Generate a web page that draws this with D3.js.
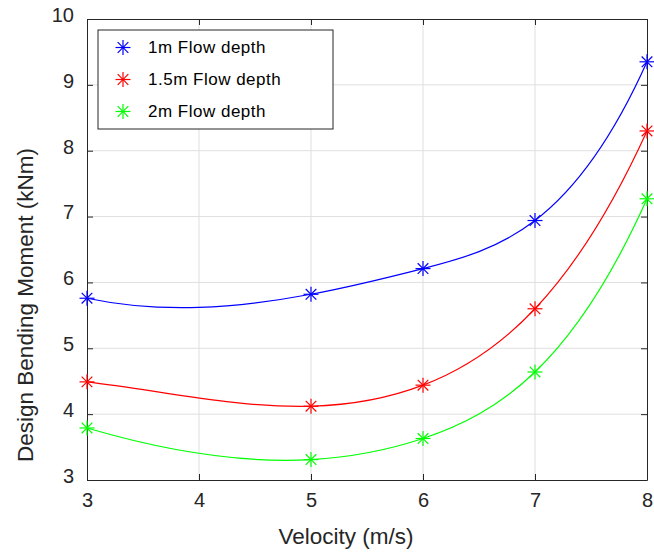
<!DOCTYPE html>
<html><head><meta charset="utf-8">
<script src="https://cdn.jsdelivr.net/npm/d3@7"></script>
<style>body{margin:0;background:#fff;}svg{display:block;font-family:"Liberation Sans",Arial,sans-serif;}</style>
</head><body><svg id="c" width="654" height="552"></svg>
<script>
const velocity = [3, 5, 6, 7, 8];
const depth1 = [5.76, 5.82, 6.21, 6.94, 9.35];
const depth15 = [4.49, 4.12, 4.44, 5.60, 8.30];
const depth2 = [3.79, 3.31, 3.63, 4.64, 7.27];
const seriesNames = ["1m Flow depth", "1.5m Flow depth", "2m Flow depth"];
const seriesColors = ["#0000ff", "#ff0000", "#00ff00"];
const xTicks = [3, 4, 5, 6, 7, 8];
const yTicks = [3, 4, 5, 6, 7, 8, 9, 10];

// not-a-knot cubic spline curve (like MATLAB spline) as a d3 curve factory
function curveNotAKnot(context) {
  let xs, ys;
  return {
    areaStart() {}, areaEnd() {},
    lineStart() { xs = []; ys = []; },
    point(x, y) { xs.push(+x); ys.push(+y); },
    lineEnd() {
      const n = xs.length;
      if (n < 4) { xs.forEach((x, i) => i ? context.lineTo(x, ys[i]) : context.moveTo(x, ys[i])); return; }
      const h = [], d = [];
      for (let i = 0; i < n - 1; i++) { h.push(xs[i + 1] - xs[i]); d.push((ys[i + 1] - ys[i]) / h[i]); }
      const A = Array.from({length: n}, () => new Array(n).fill(0)), b = new Array(n).fill(0);
      A[0][0] = h[1]; A[0][1] = h[0] + h[1];
      b[0] = ((h[0] + 2 * (h[0] + h[1])) * h[1] * d[0] + h[0] * h[0] * d[1]) / (h[0] + h[1]);
      for (let i = 1; i < n - 1; i++) {
        A[i][i - 1] = h[i]; A[i][i] = 2 * (h[i - 1] + h[i]); A[i][i + 1] = h[i - 1];
        b[i] = 3 * (h[i] * d[i - 1] + h[i - 1] * d[i]);
      }
      const xn = h[n - 2] + h[n - 3];
      A[n - 1][n - 2] = xn; A[n - 1][n - 1] = h[n - 3];
      b[n - 1] = (h[n - 2] * h[n - 2] * d[n - 3] + (2 * xn + h[n - 2]) * h[n - 3] * d[n - 2]) / xn;
      // gaussian elimination
      for (let c = 0; c < n; c++) {
        let p = c; for (let r = c + 1; r < n; r++) if (Math.abs(A[r][c]) > Math.abs(A[p][c])) p = r;
        [A[c], A[p]] = [A[p], A[c]]; [b[c], b[p]] = [b[p], b[c]];
        for (let r = c + 1; r < n; r++) { const f = A[r][c] / A[c][c]; for (let k = c; k < n; k++) A[r][k] -= f * A[c][k]; b[r] -= f * b[c]; }
      }
      const m = new Array(n);
      for (let r = n - 1; r >= 0; r--) { let s = b[r]; for (let k = r + 1; k < n; k++) s -= A[r][k] * m[k]; m[r] = s / A[r][r]; }
      context.moveTo(xs[0], ys[0]);
      for (let i = 0; i < n - 1; i++) {
        const t = h[i] / 3;
        context.bezierCurveTo(xs[i] + t, ys[i] + m[i] * t, xs[i + 1] - t, ys[i + 1] - m[i + 1] * t, xs[i + 1], ys[i + 1]);
      }
    }
  };
}

const series = [depth1, depth15, depth2];
const svg = d3.select("#c");
const L = 87, R = 647, T = 19, B = 480;
const x = d3.scaleLinear().domain([3, 8]).range([L, R]);
const y = d3.scaleLinear().domain([3, 10]).range([B, T]);
const axisCol = "#262626";
const FONT = "Liberation Sans, Arial, sans-serif";

// grid
svg.append("g").selectAll("line").data(xTicks.slice(1, -1)).join("line")
  .attr("x1", d => x(d)).attr("x2", d => x(d)).attr("y1", T).attr("y2", B)
  .attr("stroke", "#dfdfdf").attr("stroke-width", 1);
svg.append("g").selectAll("line").data(yTicks.slice(1, -1)).join("line")
  .attr("y1", d => y(d)).attr("y2", d => y(d)).attr("x1", L).attr("x2", R)
  .attr("stroke", "#dfdfdf").attr("stroke-width", 1);

// axes
const ax = (g, axis) => { g.call(axis); g.select(".domain").attr("stroke", axisCol); g.selectAll(".tick line").attr("stroke", axisCol); g.selectAll(".tick text").attr("fill", axisCol).attr("font-size", 20).attr("font-family", FONT); };
const fmt = d3.format("d");
svg.append("g").attr("transform", `translate(0,${B})`)
  .call(g => ax(g, d3.axisBottom(x).tickValues(xTicks).tickFormat(fmt).tickSize(-6).tickSizeOuter(0).tickPadding(13)));
svg.append("g").attr("transform", `translate(${L},0)`)
  .call(g => { ax(g, d3.axisLeft(y).tickValues(yTicks).tickFormat(fmt).tickSize(-6).tickSizeOuter(0).tickPadding(13)); g.selectAll(".tick text").attr("dy", "0.12em"); });
svg.append("g").attr("transform", `translate(0,${T})`)
  .call(g => { ax(g, d3.axisTop(x).tickValues(xTicks).tickSize(-6).tickSizeOuter(0)); g.selectAll("text").remove(); });
svg.append("g").attr("transform", `translate(${R},0)`)
  .call(g => { ax(g, d3.axisRight(y).tickValues(yTicks).tickSize(-6).tickSizeOuter(0)); g.selectAll("text").remove(); });

// lines
const line = d3.line().x((d, i) => x(velocity[i])).y(d => y(d)).curve(curveNotAKnot);
const star = (g, cx, cy, col, r) => {
  const a = r * Math.SQRT1_2;
  const segs = [[-r,0,r,0],[0,-r,0,r],[-a,-a,a,a],[-a,a,a,-a]];
  g.selectAll(null).data(segs).join("line")
    .attr("x1", s => cx + s[0]).attr("y1", s => cy + s[1]).attr("x2", s => cx + s[2]).attr("y2", s => cy + s[3])
    .attr("stroke", col).attr("stroke-width", 1.2);
};
series.forEach((s, k) => {
  svg.append("path").datum(s).attr("d", line).attr("fill", "none")
    .attr("stroke", seriesColors[k]).attr("stroke-width", 1.2);
  const g = svg.append("g");
  s.forEach((v, i) => star(g, x(velocity[i]), y(v), seriesColors[k], 7.5));
});

// legend
const lg = svg.append("g");
lg.append("rect").attr("x", 98).attr("y", 30).attr("width", 235).attr("height", 99)
  .attr("fill", "#fff").attr("stroke", axisCol).attr("stroke-width", 1);
seriesNames.forEach((n, k) => {
  const cy = 47.5 + k * 32;
  star(lg.append("g"), 123, cy, seriesColors[k], 7.5);
  lg.append("text").attr("x", 148).attr("y", cy).attr("dy", "0.33em")
    .attr("font-size", 17).attr("letter-spacing", 0.5).attr("fill", "#000").text(n);
});

// axis labels
svg.append("text").attr("x", 346).attr("y", 544).attr("text-anchor", "middle")
  .attr("font-size", 22.5).attr("fill", axisCol).text("Velocity (m/s)");
svg.append("text").attr("transform", `translate(33,305) rotate(-90)`)
  .attr("text-anchor", "middle").attr("font-size", 22.5).attr("fill", axisCol)
  .text("Design Bending Moment (kNm)");
</script></body></html>
